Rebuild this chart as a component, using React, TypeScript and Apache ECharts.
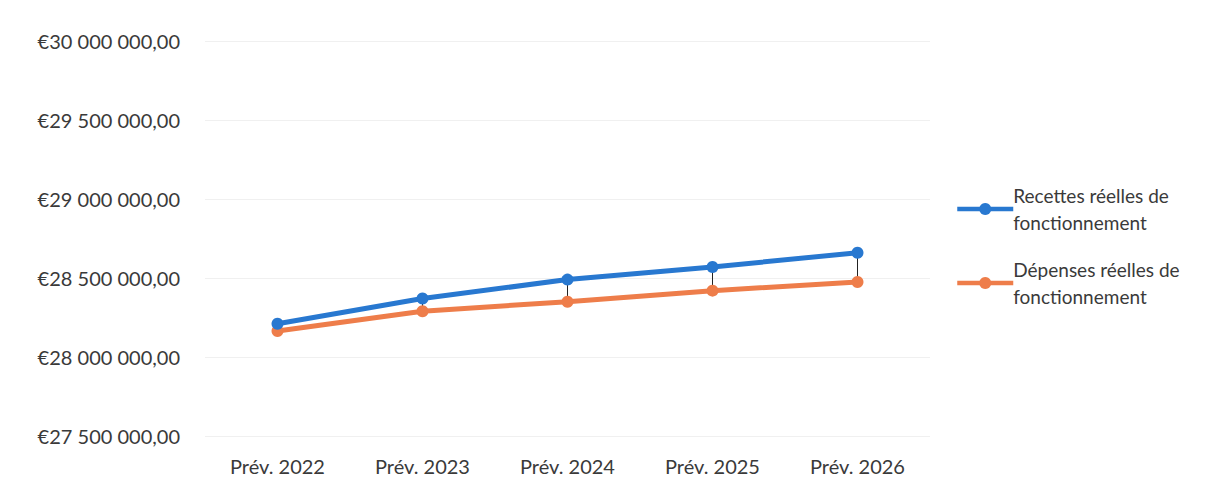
import React, { useEffect, useRef } from "react";
import * as echarts from "echarts";

const categories = ["Prév. 2022", "Prév. 2023", "Prév. 2024", "Prév. 2025", "Prév. 2026"];
const recettes = [28210000, 28370000, 28490000, 28570000, 28660000];
const depenses = [28165000, 28290000, 28350000, 28420000, 28475000];
const seriesNames = ["Recettes réelles de\nfonctionnement", "Dépenses réelles de\nfonctionnement"];

const fmt = (v: number) => {
  const s = Math.round(v).toString().replace(/\B(?=(\d{3})+(?!\d))/g, " ");
  return "€" + s + ",00";
};

export default function App() {
  const ref = useRef<HTMLDivElement>(null);
  useEffect(() => {
    if (!ref.current) return;
    const chart = echarts.init(ref.current, undefined, { renderer: "svg" });
    const font = "Lato, 'Noto Sans', sans-serif";
    chart.setOption({
      animation: false,
      backgroundColor: "#ffffff",
      grid: { left: 197, right: 268, top: 33, bottom: 44 },
      legend: {
        orient: "vertical",
        left: 942,
        top: 169,
        itemWidth: 56,
        itemHeight: 15,
        itemGap: 20,
        lineStyle: { width: 4.5 },
        textStyle: { fontFamily: font, fontSize: 19, color: "#3a3a3a", lineHeight: 27, padding: [0, 0, 0, -5] },
        data: seriesNames,
      },
      xAxis: {
        type: "category",
        data: categories,
        boundaryGap: true,
        axisLine: { show: false },
        axisTick: { show: false },
        axisLabel: { fontFamily: font, fontSize: 20, color: "#3a3a3a", margin: 20 },
      },
      yAxis: {
        type: "value",
        min: 27500000,
        max: 30000000,
        interval: 500000,
        axisLine: { show: false },
        axisTick: { show: false },
        splitLine: { lineStyle: { color: "#f0f0f0", width: 1 } },
        axisLabel: { fontFamily: font, fontSize: 20, color: "#3a3a3a", margin: 25, formatter: fmt },
      },
      series: [
        {
          type: "custom",
          silent: true,
          z: 1,
          data: categories.map((_, i) => [i, recettes[i], depenses[i]]),
          renderItem: (params: any, api: any) => {
            const a = api.coord([api.value(0), api.value(1)]);
            const b = api.coord([api.value(0), api.value(2)]);
            return {
              type: "line",
              shape: { x1: a[0], y1: a[1], x2: b[0], y2: b[1] },
              style: { stroke: "#222222", lineWidth: 1 },
            };
          },
        },
        {
          name: seriesNames[0],
          type: "line",
          data: recettes,
          z: 3,
          symbol: "circle",
          symbolSize: 12,
          color: "#2878d0",
          lineStyle: { width: 5, color: "#2878d0" },
          itemStyle: { color: "#2878d0" },
        },
        {
          name: seriesNames[1],
          type: "line",
          data: depenses,
          z: 2,
          symbol: "circle",
          symbolSize: 12,
          color: "#ee7d4a",
          lineStyle: { width: 5, color: "#ee7d4a" },
          itemStyle: { color: "#ee7d4a" },
        },
      ],
    });
    return () => chart.dispose();
  }, []);
  return <div ref={ref} style={{ width: 1190, height: 472 }} />;
}
